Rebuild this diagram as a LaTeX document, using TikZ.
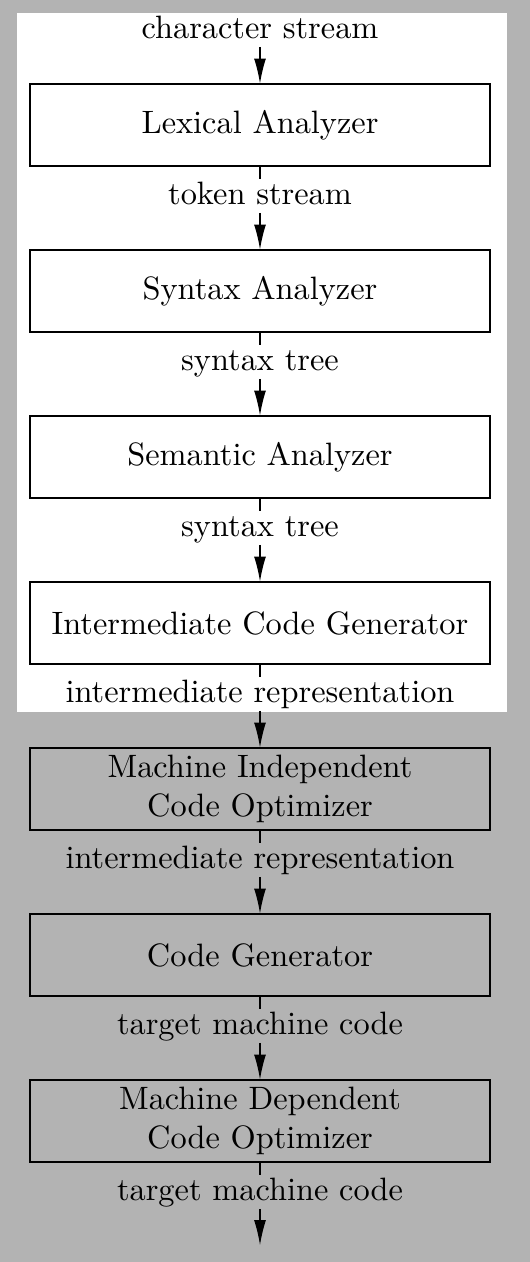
\documentclass[tikz,border=0pt]{standalone}
\usetikzlibrary{arrows.meta}
\definecolor{bggray}{RGB}{179,179,179}
\def\u{0.309pt}
\begin{document}
\begin{tikzpicture}[x=0.309pt,y=-0.309pt,
  stage/.style={draw=black,line width=0.35pt,minimum width=460*\u,minimum height=82*\u,inner sep=0pt,align=center,font=\normalsize},
  lbl/.style={anchor=base,inner xsep=0pt,inner ysep=0.6pt,text height=6.94pt,text depth=1.94pt},
  flow/.style={line width=0.35pt,-{Latex[length=7.7pt,width=3.7pt]}},
  stub/.style={line width=0.35pt}]
\fill[bggray] (0,0) rectangle (530,1262);
\fill[white] (17,13) rectangle (507,712);
\useasboundingbox (0,0) rectangle (530,1262);
\node[stage] (b1) at (260,125) {Lexical Analyzer};
\node[stage] (b2) at (260,291) {Syntax Analyzer};
\node[stage] (b3) at (260,457) {Semantic Analyzer};
\node[stage] (b4) at (260,623) {Intermediate Code Generator};
\node[stage] (b5) at (260,789) {Machine Independent\\Code Optimizer};
\node[stage] (b6) at (260,955) {Code Generator};
\node[stage] (b7) at (260,1121) {Machine Dependent\\Code Optimizer};
\node[lbl] (l1) at (260,38) {character stream};
\node[lbl] (l2) at (260,204) {token stream};
\node[lbl] (l3) at (260,370) {syntax tree};
\node[lbl] (l4) at (260,536) {syntax tree};
\node[lbl] (l5) at (260,702) {intermediate representation};
\node[lbl] (l6) at (260,868) {intermediate representation};
\node[lbl] (l7) at (260,1034) {target machine code};
\node[lbl] (l8) at (260,1200) {target machine code};
\coordinate (end) at (260,1245);
\draw[flow] (l1.south) -- (b1.north);
\draw[stub] (b1.south) -- (l2.north);
\draw[flow] (l2.south) -- (b2.north);
\draw[stub] (b2.south) -- (l3.north);
\draw[flow] (l3.south) -- (b3.north);
\draw[stub] (b3.south) -- (l4.north);
\draw[flow] (l4.south) -- (b4.north);
\draw[stub] (b4.south) -- (l5.north);
\draw[flow] (l5.south) -- (b5.north);
\draw[stub] (b5.south) -- (l6.north);
\draw[flow] (l6.south) -- (b6.north);
\draw[stub] (b6.south) -- (l7.north);
\draw[flow] (l7.south) -- (b7.north);
\draw[stub] (b7.south) -- (l8.north);
\draw[flow] (l8.south) -- (end);
\end{tikzpicture}
\end{document}
